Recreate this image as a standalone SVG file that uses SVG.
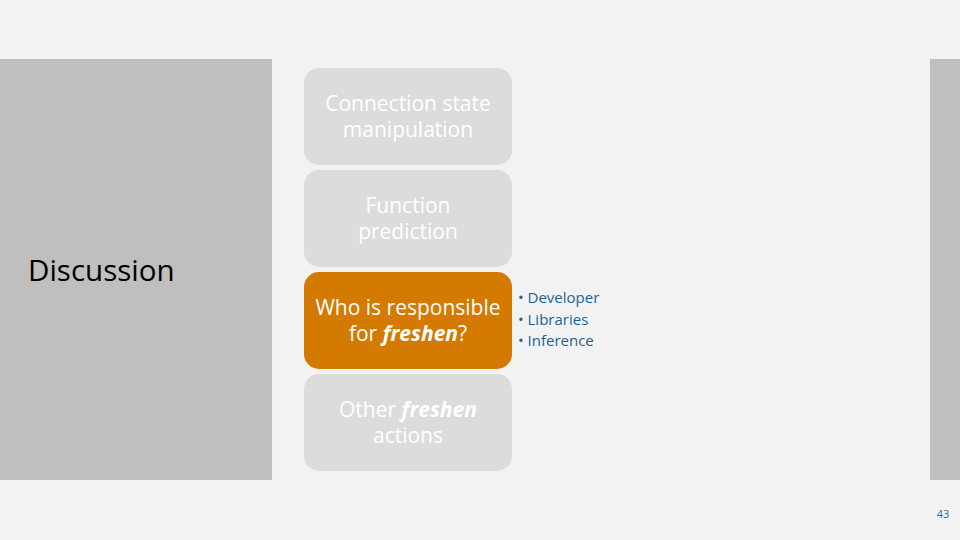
<svg xmlns="http://www.w3.org/2000/svg" width="960" height="540" viewBox="0 0 960 540">
<style>
.box{fill:#dcdcdc}
.hl{fill:#d57a00}
.t{font-family:"Open Sans","Liberation Sans",sans-serif;font-size:21px;fill:#ffffff;text-anchor:middle}
.b{font-family:"Open Sans","Liberation Sans",sans-serif;font-size:15px;fill:#1f6391}
</style>
<rect width="960" height="540" fill="#f2f2f2"/>
<rect x="0" y="59" width="272" height="421" fill="#bfbfbf"/>
<rect x="930" y="59" width="30" height="421" fill="#bfbfbf"/>
<text x="28" y="281" font-family="Open Sans, Liberation Sans, sans-serif" font-size="29.5" fill="#000">Discussion</text>
<g id="connectors"/>
<g id="n1"><rect class="box" x="304" y="68" width="208" height="97" rx="15"/>
<text class="t" x="408" y="111">Connection state</text><text class="t" x="408" y="137">manipulation</text></g>
<g id="n2"><rect class="box" x="304" y="170" width="208" height="97" rx="15"/>
<text class="t" x="408" y="213">Function</text><text class="t" x="408" y="239">prediction</text></g>
<g id="n3"><rect class="hl" x="304" y="272" width="208" height="97" rx="15"/>
<text class="t" x="408" y="315">Who is responsible</text><text class="t" x="408" y="341">for <tspan font-weight="bold" font-style="italic">freshen</tspan>?</text></g>
<g id="n4"><rect class="box" x="304" y="374" width="208" height="97" rx="15"/>
<text class="t" x="408" y="417">Other <tspan font-weight="bold" font-style="italic">freshen</tspan></text><text class="t" x="408" y="443">actions</text></g>
<g id="bullets">
<text class="b" x="518" y="303">• Developer</text>
<text class="b" x="518" y="325">• Libraries</text>
<text class="b" x="518" y="346">• Inference</text>
</g>
<text x="943" y="518" font-family="Open Sans, Liberation Sans, sans-serif" font-size="11" fill="#2e6e8e" text-anchor="middle">43</text>
</svg>
